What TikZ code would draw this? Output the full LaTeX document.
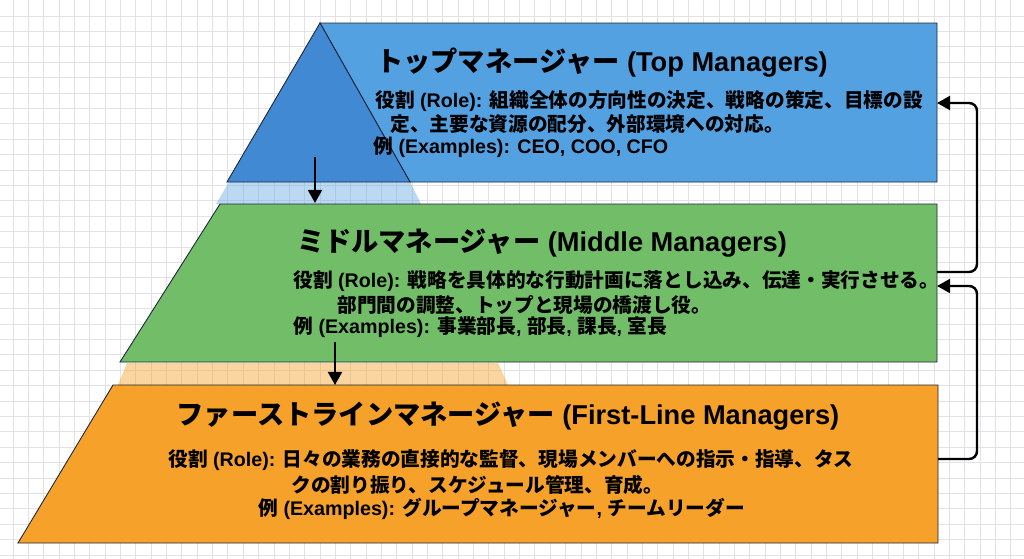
\documentclass[tikz,border=0pt]{standalone}
\usepackage{fontspec}
\setmainfont{Liberation Sans}
\newfontfamily\jpfont{Noto Sans CJK JP}
\usetikzlibrary{arrows.meta}
\definecolor{topcol}{RGB}{84,161,226}
\definecolor{topdark}{RGB}{66,137,211}
\definecolor{midcol}{RGB}{114,190,104}
\definecolor{lowcol}{RGB}{245,161,42}
\definecolor{gridcol}{RGB}{226,226,230}
\definecolor{edgecol}{RGB}{28,36,56}
\newcommand{\jp}[1]{{\jpfont #1}}

\begin{document}
\begin{tikzpicture}[x=0.2mm,y=-0.2mm,
  layer/.style={draw=edgecol,line width=0.5pt},
  ttl/.style={font=\bfseries\fontsize{15.5}{18}\selectfont,inner sep=0pt},
  txt/.style={font=\bfseries\fontsize{11.2}{13}\selectfont,anchor=west,inner sep=0pt},
  flow/.style={line width=1.4pt,-{Triangle[length=7.5pt,width=8pt]}}]
  \useasboundingbox (0,0) rectangle (1024,559);
  % background grid
  \foreach \k in {0,...,66}
     {\draw[gridcol,line width=0.5pt] (13+15.35*\k,0) -- (13+15.35*\k,559);}
  \foreach \k in {0,...,35}
     {\draw[gridcol,line width=0.5pt] (0,16+15.4*\k) -- (1024,16+15.4*\k);}
  % top layer
  \fill[topcol,fill opacity=0.4] (229,182) -- (410,182) -- (421,204) -- (216,204) -- cycle;
  \draw[layer,fill=topcol] (320,23) -- (937,23) -- (937,182) -- (410,182) -- cycle;
  \draw[layer,fill=topdark] (320,23) -- (410,182) -- (227,182) -- cycle;
  % middle layer
  \fill[lowcol,fill opacity=0.45] (127,363) -- (498,363) -- (508,385) -- (118,385) -- cycle;
  \draw[layer,fill=midcol] (220,204) -- (937,204) -- (937,362) -- (120,362) -- cycle;
  % first-line layer
  \draw[layer,fill=lowcol] (113,385) -- (938,385) -- (938,543) -- (18,543) -- cycle;
  % arrow ends
  \coordinate (top-s) at (315,157);
  \coordinate (mid-n) at (315,203);
  \coordinate (mid-s) at (335,342);
  \coordinate (low-n) at (335,385);
  \coordinate (top-e) at (937,103);
  \coordinate (mid-e) at (937,272);
  \coordinate (mid-e2) at (937,286);
  \coordinate (low-e) at (938,459);
  % texts
  \node[ttl] (top-t) at (602,63) {\jp{トップマネージャー} (Top Managers)};
  \node[txt] (top-r1) at (375,101) {\jp{役割} (Role): \jp{組織全体の方向性の決定、戦略の策定、目標の設}};
  \node[txt] (top-r2) at (390,124) {\jp{定、主要な資源の配分、外部環境への対応。}};
  \node[txt] (top-ex) at (373,147) {\jp{例} (Examples): CEO, COO, CFO};
  \node[ttl] (mid-t) at (542,243) {\jp{ミドルマネージャー} (Middle Managers)};
  \node[txt] (mid-r1) at (293,281) {\jp{役割} (Role): \jp{戦略を具体的な行動計画に落とし込み、伝達・実行させる。}};
  \node[txt] (mid-r2) at (337,305) {\jp{部門間の調整、トップと現場の橋渡し役。}};
  \node[txt] (mid-ex) at (293,327) {\jp{例} (Examples): \jp{事業部長}, \jp{部長}, \jp{課長}, \jp{室長}};
  \node[ttl] (low-t) at (508,416) {\jp{ファーストラインマネージャー} (First-Line Managers)};
  \node[txt] (low-r1) at (168,460) {\jp{役割} (Role): \jp{日々の業務の直接的な監督、現場メンバーへの指示・指導、タス}};
  \node[txt] (low-r2) at (291,485) {\jp{クの割り振り、スケジュール管理、育成。}};
  \node[txt] (low-ex) at (258,509) {\jp{例} (Examples): \jp{グループマネージャー}, \jp{チームリーダー}};
  % connectors
  \draw[flow] (top-s) -- (mid-n);
  \draw[flow] (mid-s) -- (low-n);
  \draw[flow,rounded corners=4.5pt] (mid-e) -- ++(40,0) |- (top-e);
  \draw[flow,rounded corners=4.5pt] (low-e) -- ++(39,0) |- (mid-e2);
\end{tikzpicture}
\end{document}
